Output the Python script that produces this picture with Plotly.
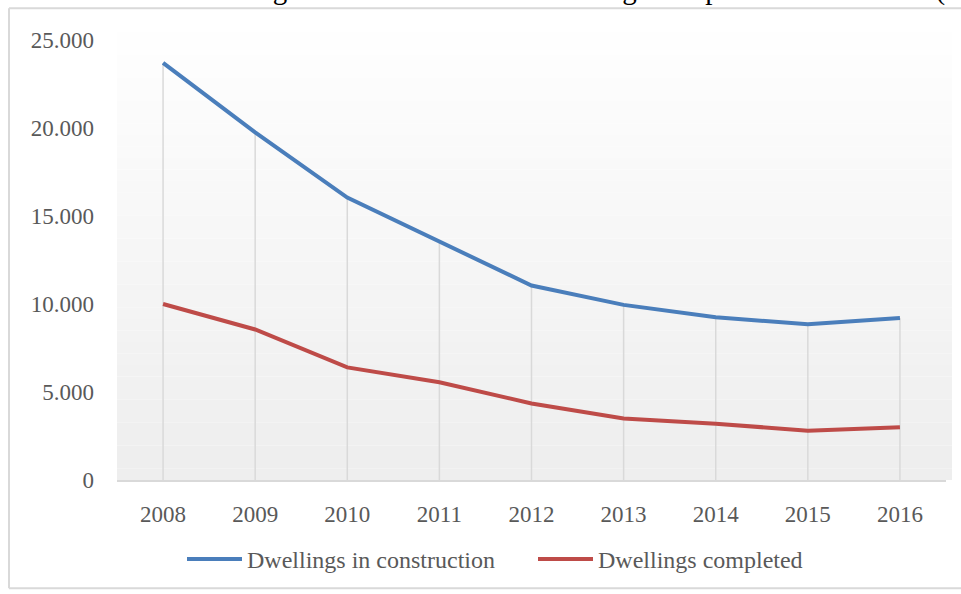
import plotly.graph_objects as go

# ---- data ----
years = [2008, 2009, 2010, 2011, 2012, 2013, 2014, 2015, 2016]
in_construction = [23700, 19750, 16050, 13550, 11050, 9950, 9250, 8850, 9200]
completed = [10000, 8550, 6400, 5550, 4350, 3500, 3200, 2800, 3000]
series_names = ["Dwellings in construction", "Dwellings completed"]
y_tick_vals = [0, 5000, 10000, 15000, 20000, 25000]
y_tick_text = ["0", "5.000", "10.000", "15.000", "20.000", "25.000"]
caption = "Number of dwellings in construction and dwellings completed 2008 – 2016 (source: SORS)"

W, H = 961, 594
L, R, T, B = 117, 15, 40, 111
pw, ph = W - L - R, H - T - B

def px_x(x):
    return (x - L) / pw

def px_y(y):
    return (H - B - y) / ph

FONT = "Liberation Serif"
GREY = "#595959"

fig = go.Figure()

drop_x, drop_y = [], []
for yr, a, b in zip(years, in_construction, completed):
    drop_x += [yr, yr, None]
    drop_y += [0, max(a, b), None]
fig.add_trace(go.Scatter(x=drop_x, y=drop_y, mode="lines",
                         line=dict(color="#d9d9d9", width=1.5),
                         showlegend=False, hoverinfo="skip"))

fig.add_trace(go.Scatter(x=years, y=in_construction, mode="lines", name=series_names[0],
                         line=dict(color="#4A7EBB", width=4)))
fig.add_trace(go.Scatter(x=years, y=completed, mode="lines", name=series_names[1],
                         line=dict(color="#BE4B48", width=4)))

shapes = []
n = 40
top_px, bot_px = 20, H - B
for i in range(n):
    y0 = bot_px - (bot_px - top_px) * i / n
    y1 = bot_px - (bot_px - top_px) * (i + 1) / n
    c = int(238 + (255 - 238) * i / (n - 1))
    shapes.append(dict(type="rect", xref="paper", yref="paper",
                       x0=px_x(117), x1=px_x(952), y0=px_y(y0), y1=px_y(y1),
                       fillcolor=f"rgb({c},{c},{c})", line=dict(width=0), layer="below"))
for (xa, ya, xb, yb) in [(9, 8, 975, 8), (9, 8, 9, 592), (9, 592, 975, 592)]:
    shapes.append(dict(type="line", xref="paper", yref="paper",
                       x0=px_x(xa), x1=px_x(xb), y0=px_y(ya), y1=px_y(yb),
                       line=dict(color="#d9d9d9", width=2)))

fig.update_layout(
    width=W, height=H,
    margin=dict(l=L, r=R, t=T, b=B),
    paper_bgcolor="white", plot_bgcolor="rgba(0,0,0,0)",
    font=dict(family=FONT, size=23, color=GREY),
    shapes=shapes,
    showlegend=True,
    legend=dict(orientation="h", x=px_x(182), y=px_y(563), xanchor="left", yanchor="middle",
                font=dict(family=FONT, size=24, color=GREY),
                itemwidth=55, entrywidth=281, bgcolor="rgba(0,0,0,0)"),
    annotations=[
        dict(text=caption, xref="paper", yref="paper", x=px_x(50), y=px_y(8),
             xanchor="left", yanchor="bottom", showarrow=False,
             font=dict(family=FONT, size=29, color="black")),
    ],
    hovermode=False,
)
fig.update_xaxes(range=[2007.5, 2016.5], tickvals=years, ticktext=[str(y) for y in years],
                 showgrid=False, zeroline=False, showline=True, linecolor="#d9d9d9", linewidth=2,
                 ticks="", ticklabelstandoff=12, tickfont=dict(family=FONT, size=23, color=GREY))
fig.update_yaxes(range=[0, 25000], tickvals=y_tick_vals, ticktext=y_tick_text,
                 showgrid=False, zeroline=False, showline=False,
                 ticks="", ticklabelstandoff=22, tickfont=dict(family=FONT, size=23, color=GREY))

fig.write_html("out.html")
